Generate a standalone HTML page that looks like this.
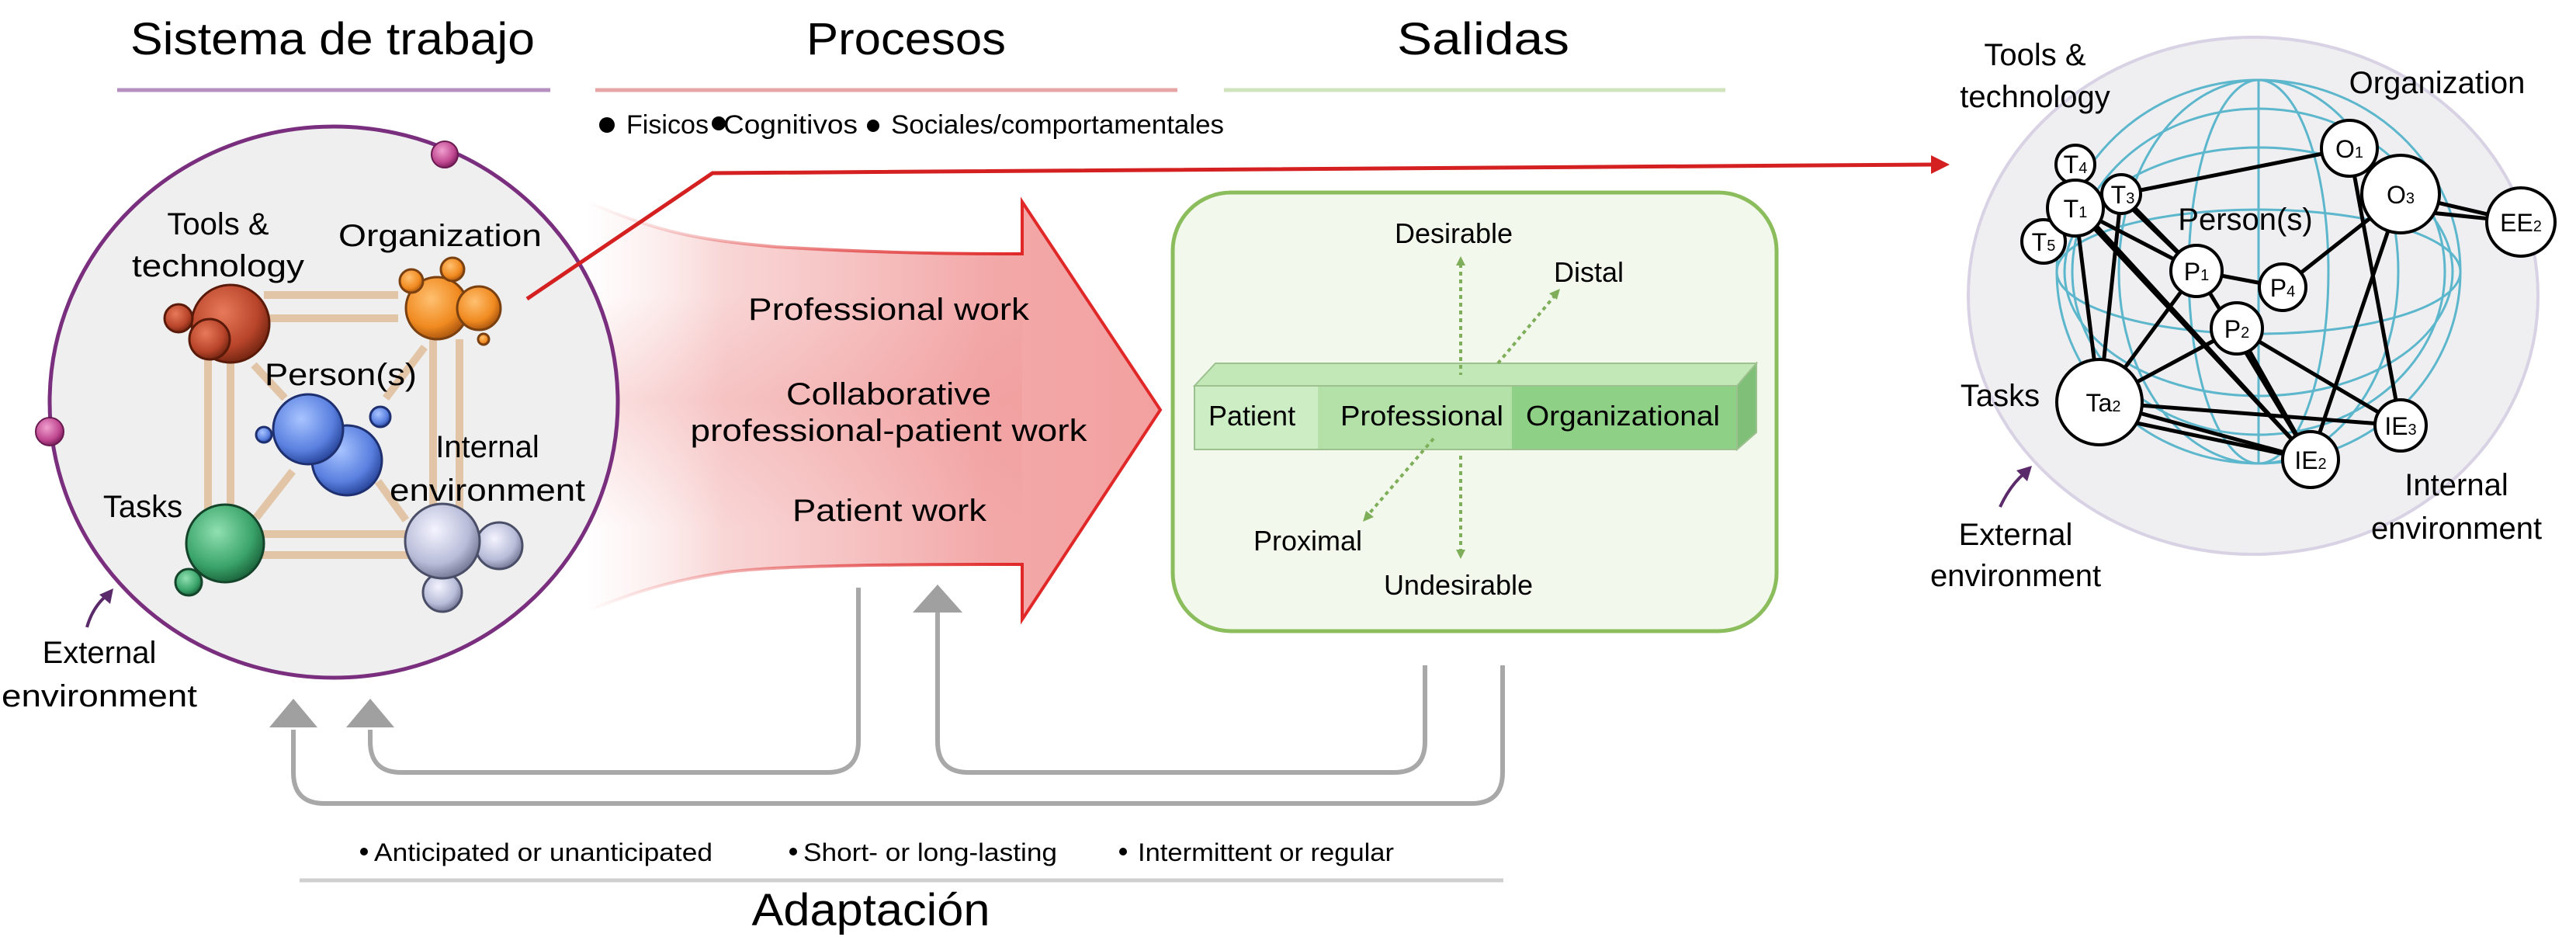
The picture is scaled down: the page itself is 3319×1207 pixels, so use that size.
<!DOCTYPE html>
<html><head><meta charset="utf-8"><style>
html,body{margin:0;padding:0;background:#fff;}
svg{display:block;font-family:"Liberation Sans",Arial,sans-serif;}
</style></head><body>
<svg width="3319" height="1207" viewBox="0 0 3319 1207" xmlns="http://www.w3.org/2000/svg">
<defs>
<linearGradient id="arrowH" x1="745" y1="0" x2="1495" y2="0" gradientUnits="userSpaceOnUse">
<stop offset="0" stop-color="#fbe3e3" stop-opacity="0"/>
<stop offset="0.25" stop-color="#f6c4c4" stop-opacity="0.7"/>
<stop offset="0.7" stop-color="#f3a9a9"/>
<stop offset="1" stop-color="#f3a0a0"/>
</linearGradient>
<linearGradient id="band" x1="0" y1="380" x2="0" y2="680" gradientUnits="userSpaceOnUse">
<stop offset="0" stop-color="#ee8e8e" stop-opacity="0"/>
<stop offset="0.45" stop-color="#ee8e8e" stop-opacity="0.45"/>
<stop offset="1" stop-color="#ee8e8e" stop-opacity="0"/>
</linearGradient>
<linearGradient id="edgeR" x1="757" y1="0" x2="1317" y2="0" gradientUnits="userSpaceOnUse">
<stop offset="0" stop-color="#e03a3a" stop-opacity="0"/>
<stop offset="0.6" stop-color="#e03a3a" stop-opacity="0.7"/>
<stop offset="1" stop-color="#e02828"/>
</linearGradient>
<radialGradient id="gRed" cx="0.4" cy="0.35" r="0.65"><stop offset="0" stop-color="#e87a5a"/><stop offset="0.7" stop-color="#b8442a"/><stop offset="1" stop-color="#7a2814"/></radialGradient>
<radialGradient id="gOr" cx="0.4" cy="0.35" r="0.65"><stop offset="0" stop-color="#ffc070"/><stop offset="0.7" stop-color="#f08a20"/><stop offset="1" stop-color="#b05a10"/></radialGradient>
<radialGradient id="gBl" cx="0.4" cy="0.35" r="0.65"><stop offset="0" stop-color="#a8c4ff"/><stop offset="0.7" stop-color="#5a80e0"/><stop offset="1" stop-color="#2c4aa0"/></radialGradient>
<radialGradient id="gGr" cx="0.4" cy="0.35" r="0.65"><stop offset="0" stop-color="#90e0b0"/><stop offset="0.7" stop-color="#3aa46a"/><stop offset="1" stop-color="#1e6a40"/></radialGradient>
<radialGradient id="gSi" cx="0.4" cy="0.35" r="0.65"><stop offset="0" stop-color="#f4f4ff"/><stop offset="0.7" stop-color="#b8bcd8"/><stop offset="1" stop-color="#7a7e9a"/></radialGradient>
<radialGradient id="gPk" cx="0.4" cy="0.35" r="0.65"><stop offset="0" stop-color="#f0a0d0"/><stop offset="0.7" stop-color="#c04890"/><stop offset="1" stop-color="#802060"/></radialGradient>
</defs>

<!-- Titles -->
<text x="168" y="70" font-size="58" textLength="521" lengthAdjust="spacingAndGlyphs">Sistema de trabajo</text>
<text x="1039" y="70" font-size="58" textLength="257" lengthAdjust="spacingAndGlyphs">Procesos</text>
<text x="1800" y="70" font-size="58" textLength="222" lengthAdjust="spacingAndGlyphs">Salidas</text>
<line x1="151" y1="116" x2="709" y2="116" stroke="#b68fc0" stroke-width="5"/>
<line x1="767" y1="116" x2="1517" y2="116" stroke="#e6a6a6" stroke-width="5"/>
<line x1="1577" y1="116" x2="2223" y2="116" stroke="#cfe3bd" stroke-width="5"/>

<!-- bullets -->
<circle cx="782" cy="161" r="10"/><circle cx="926" cy="159" r="9"/><circle cx="1125" cy="162" r="8"/>
<text x="807" y="172" font-size="34" textLength="106" lengthAdjust="spacingAndGlyphs">Fisicos</text>
<text x="932" y="172" font-size="34" textLength="173" lengthAdjust="spacingAndGlyphs">Cognitivos</text>
<text x="1148" y="172" font-size="34" textLength="429" lengthAdjust="spacingAndGlyphs">Sociales/comportamentales</text>

<!-- Big arrow -->
<path d="M757,260 C850,300 900,309 1000,318 C1150,327 1250,327 1317,327 L1317,260 L1495,528 L1317,798 L1317,727 C1200,727 1000,727 930,738 C850,750 800,770 757,787 Z" fill="url(#arrowH)"/>
<path d="M757,260 C850,300 900,309 1000,318 C1150,327 1250,327 1317,327 L1317,727 C1200,727 1000,727 930,738 C850,750 800,770 757,787 Z" fill="url(#band)" opacity="0.6"/>
<path d="M757,260 C850,300 900,309 1000,318 C1150,327 1250,327 1317,327 L1317,260 L1495,528 L1317,798 L1317,727 C1200,727 1000,727 930,738 C850,750 800,770 757,787" fill="none" stroke="url(#edgeR)" stroke-width="4"/>
<text x="1145" y="412" font-size="40" text-anchor="middle" textLength="362" lengthAdjust="spacingAndGlyphs">Professional work</text>
<text x="1145" y="521" font-size="40" text-anchor="middle" textLength="264" lengthAdjust="spacingAndGlyphs">Collaborative</text>
<text x="1145" y="568" font-size="40" text-anchor="middle" textLength="511" lengthAdjust="spacingAndGlyphs">professional-patient work</text>
<text x="1146" y="671" font-size="40" text-anchor="middle" textLength="250" lengthAdjust="spacingAndGlyphs">Patient work</text>

<!-- Left circle -->
<ellipse cx="430" cy="518" rx="366" ry="355" fill="#efefef" stroke="#7a2e7e" stroke-width="5"/>
<circle cx="573" cy="199" r="17" fill="url(#gPk)" stroke="#6a1a50" stroke-width="2"/>
<circle cx="64" cy="556" r="18" fill="url(#gPk)" stroke="#6a1a50" stroke-width="2"/>
<!-- cube lines -->
<g stroke="#e2c4a6" stroke-width="10" fill="none">
<line x1="340" y1="380" x2="513" y2="380"/><line x1="340" y1="410" x2="513" y2="410"/>
<line x1="268" y1="460" x2="268" y2="665"/><line x1="297" y1="460" x2="297" y2="665"/>
<line x1="558" y1="437" x2="558" y2="660"/><line x1="592" y1="437" x2="592" y2="660"/>
<line x1="330" y1="688" x2="530" y2="688"/><line x1="330" y1="715" x2="530" y2="715"/>
<line x1="327" y1="470" x2="367" y2="513"/><line x1="497" y1="513" x2="547" y2="447"/>
<line x1="377" y1="607" x2="330" y2="667"/><line x1="487" y1="620" x2="523" y2="670"/>
</g>
<g stroke-width="3">
<circle cx="297" cy="417" r="50" fill="url(#gRed)" stroke="#5a1a0a"/>
<circle cx="230" cy="410" r="18" fill="url(#gRed)" stroke="#5a1a0a"/>
<circle cx="270" cy="437" r="26" fill="url(#gRed)" stroke="#5a1a0a"/>
<circle cx="563" cy="397" r="40" fill="url(#gOr)" stroke="#7a4010"/>
<circle cx="617" cy="397" r="28" fill="url(#gOr)" stroke="#7a4010"/>
<circle cx="583" cy="347" r="15" fill="url(#gOr)" stroke="#7a4010"/>
<circle cx="530" cy="362" r="15" fill="url(#gOr)" stroke="#7a4010"/>
<circle cx="623" cy="437" r="7" fill="url(#gOr)" stroke="#7a4010"/>
<circle cx="490" cy="537" r="13" fill="url(#gBl)" stroke="#1e3070"/>
<circle cx="340" cy="560" r="10" fill="url(#gBl)" stroke="#1e3070"/>
<circle cx="447" cy="593" r="45" fill="url(#gBl)" stroke="#1e3070"/>
<circle cx="397" cy="553" r="45" fill="url(#gBl)" stroke="#1e3070"/>
<circle cx="243" cy="750" r="17" fill="url(#gGr)" stroke="#14442a"/>
<circle cx="290" cy="700" r="50" fill="url(#gGr)" stroke="#14442a"/>
<circle cx="643" cy="703" r="30" fill="url(#gSi)" stroke="#4a4e66"/>
<circle cx="570" cy="763" r="25" fill="url(#gSi)" stroke="#4a4e66"/>
<circle cx="570" cy="697" r="48" fill="url(#gSi)" stroke="#4a4e66"/>
</g>
<g font-size="40" text-anchor="middle">
<text x="281" y="302">Tools &amp;</text>
<text x="281" y="356" textLength="222" lengthAdjust="spacingAndGlyphs">technology</text>
<text x="567" y="317" textLength="262" lengthAdjust="spacingAndGlyphs">Organization</text>
<text x="439" y="496" textLength="196" lengthAdjust="spacingAndGlyphs">Person(s)</text>
<text x="628" y="589">Internal</text>
<text x="628" y="645" textLength="252" lengthAdjust="spacingAndGlyphs">environment</text>
<text x="184" y="666">Tasks</text>
<text x="128" y="854">External</text>
<text x="128" y="910" textLength="252" lengthAdjust="spacingAndGlyphs">environment</text>
</g>
<path d="M112,808 Q120,780 140,765" fill="none" stroke="#5a2a6a" stroke-width="4"/>
<polygon points="146,758 128,766 142,778" fill="#5a2a6a"/>

<!-- Red connector -->
<polyline points="679,385 918,223 2490,212" fill="none" stroke="#d42020" stroke-width="5"/>
<polygon points="2512,212 2488,200 2488,224" fill="#d42020"/>

<!-- Green box -->
<rect x="1511" y="248" width="778" height="565" rx="75" fill="#f2f9ec" stroke="#8cbd5c" stroke-width="5"/>
<polygon points="1539,497 1566,468 2263,468 2238,497" fill="#c3e8b8" stroke="#9cc08e" stroke-width="2"/>
<polygon points="2238,497 2263,468 2263,557 2238,579" fill="#7fbf78" stroke="#9cc08e" stroke-width="2"/>
<rect x="1539" y="497" width="159" height="82" fill="#cdeec4"/>
<rect x="1698" y="497" width="250" height="82" fill="#b3e1a8"/>
<rect x="1948" y="497" width="290" height="82" fill="#8fd087"/>
<rect x="1539" y="497" width="699" height="82" fill="none" stroke="#9cc08e" stroke-width="2"/>
<g font-size="36">
<text x="1557" y="548">Patient</text>
<text x="1727" y="548" textLength="210" lengthAdjust="spacingAndGlyphs">Professional</text>
<text x="1966" y="548" textLength="250" lengthAdjust="spacingAndGlyphs">Organizational</text>
<text x="1873" y="313" text-anchor="middle">Desirable</text>
<text x="2002" y="363">Distal</text>
<text x="1615" y="709">Proximal</text>
<text x="1879" y="766" text-anchor="middle">Undesirable</text>
</g>
<g stroke="#7fae5a" stroke-width="4" stroke-dasharray="5,5" fill="none">
<line x1="1882" y1="340" x2="1882" y2="483"/>
<line x1="1882" y1="587" x2="1882" y2="710"/>
<line x1="1930" y1="468" x2="2004" y2="380"/>
<line x1="1847" y1="565" x2="1762" y2="664"/>
</g>
<g fill="#7fae5a">
<polygon points="1882,330 1876,342 1888,342"/><polygon points="1882,720 1876,708 1888,708"/>
<polygon points="2010,372 1996,378 2006,386"/><polygon points="1756,672 1760,658 1770,666"/>
</g>

<!-- Feedback arrows -->
<g fill="none" stroke="#a8a8a8" stroke-width="6">
<path d="M1106,757 L1106,955 Q1106,995 1066,995 L517,995 Q477,995 477,955 L477,940"/>
<path d="M1208,785 L1208,955 Q1208,995 1248,995 L1796,995 Q1836,995 1836,955 L1836,857"/>
<path d="M1936,857 L1936,995 Q1936,1035 1896,1035 L418,1035 Q378,1035 378,995 L378,940"/>
</g>
<g fill="#a0a0a0">
<polygon points="378,900 347,937 409,937"/>
<polygon points="477,900 446,937 508,937"/>
<polygon points="1208,753 1176,789 1240,789"/>
</g>
<circle cx="469" cy="1097" r="5"/><circle cx="1022" cy="1097" r="5"/><circle cx="1447" cy="1097" r="5"/>
<g font-size="32">
<text x="482" y="1109" textLength="436" lengthAdjust="spacingAndGlyphs">Anticipated or unanticipated</text>
<text x="1035" y="1109" textLength="327" lengthAdjust="spacingAndGlyphs">Short- or long-lasting</text>
<text x="1466" y="1109" textLength="330" lengthAdjust="spacingAndGlyphs">Intermittent or regular</text>
</g>
<line x1="386" y1="1134" x2="1937" y2="1134" stroke="#cfcfcf" stroke-width="5"/>
<text x="1122" y="1192" font-size="58" text-anchor="middle" textLength="307" lengthAdjust="spacingAndGlyphs">Adaptación</text>

<!-- Right network -->
<ellipse cx="2903" cy="381" rx="367" ry="333" fill="#efeff1" stroke="#d8d2e4" stroke-width="4"/>
<g fill="none" stroke="#5cb6cc" stroke-width="3">
<ellipse cx="2910" cy="350" rx="260" ry="247"/>
<ellipse cx="2910" cy="350" rx="180" ry="247"/>
<ellipse cx="2910" cy="350" rx="90" ry="247"/>
<line x1="2910" y1="103" x2="2910" y2="597"/>
<ellipse cx="2910" cy="350" rx="260" ry="80"/>
<ellipse cx="2910" cy="350" rx="250" ry="160"/>
<ellipse cx="2910" cy="350" rx="240" ry="210"/>
</g>
<g stroke="#000" stroke-width="5">
<line x1="2733" y1="250" x2="3027" y2="191"/>
<line x1="2674" y1="268" x2="2705" y2="518"/>
<line x1="2733" y1="250" x2="2705" y2="518"/>
<line x1="2674" y1="268" x2="2977" y2="592"/>
<line x1="2700" y1="290" x2="2977" y2="592"/>
<line x1="2733" y1="250" x2="2830" y2="349"/>
<line x1="2740" y1="262" x2="2830" y2="349"/>
<line x1="2674" y1="268" x2="2830" y2="349"/>
<line x1="2830" y1="349" x2="2941" y2="370"/>
<line x1="2830" y1="349" x2="2705" y2="518"/>
<line x1="2882" y1="423" x2="2705" y2="518"/>
<line x1="2830" y1="349" x2="2977" y2="592"/>
<line x1="2882" y1="423" x2="2977" y2="592"/>
<line x1="2882" y1="423" x2="3093" y2="548"/>
<line x1="2941" y1="370" x2="3093" y2="250"/>
<line x1="3027" y1="191" x2="3093" y2="548"/>
<line x1="3093" y1="250" x2="2977" y2="592"/>
<line x1="3093" y1="250" x2="3248" y2="286"/>
<line x1="3093" y1="270" x2="3248" y2="286"/>
<line x1="2705" y1="518" x2="3093" y2="548"/>
<line x1="2705" y1="518" x2="2977" y2="592"/>
<line x1="2705" y1="535" x2="2977" y2="592"/>
</g>
<g fill="#fff" stroke="#000" stroke-width="4">
<circle cx="2674" cy="212" r="25"/>
<circle cx="2633" cy="311" r="28"/>
<circle cx="2674" cy="268" r="36"/>
<circle cx="2733" cy="250" r="25"/>
<circle cx="3027" cy="191" r="36"/>
<circle cx="3093" cy="250" r="50"/>
<circle cx="3248" cy="286" r="44"/>
<circle cx="2830" cy="349" r="33"/>
<circle cx="2941" cy="370" r="30"/>
<circle cx="2882" cy="423" r="33"/>
<circle cx="2705" cy="518" r="55"/>
<circle cx="3093" cy="548" r="33"/>
<circle cx="2977" cy="592" r="36"/>
</g>
<g font-size="32" text-anchor="middle">
<text x="2674" y="223">T<tspan font-size="20">4</tspan></text>
<text x="2633" y="323">T<tspan font-size="20">5</tspan></text>
<text x="2674" y="280">T<tspan font-size="20">1</tspan></text>
<text x="2735" y="262">T<tspan font-size="20">3</tspan></text>
<text x="3027" y="203">O<tspan font-size="20">1</tspan></text>
<text x="3093" y="262">O<tspan font-size="20">3</tspan></text>
<text x="3248" y="298">EE<tspan font-size="20">2</tspan></text>
<text x="2830" y="361">P<tspan font-size="20">1</tspan></text>
<text x="2941" y="382">P<tspan font-size="20">4</tspan></text>
<text x="2882" y="435">P<tspan font-size="20">2</tspan></text>
<text x="2710" y="530">Ta<tspan font-size="20">2</tspan></text>
<text x="3093" y="560">IE<tspan font-size="20">3</tspan></text>
<text x="2977" y="604">IE<tspan font-size="20">2</tspan></text>
</g>
<g font-size="40" text-anchor="middle">
<text x="2622" y="84">Tools &amp;</text>
<text x="2622" y="138">technology</text>
<text x="3140" y="120">Organization</text>
<text x="2893" y="296">Person(s)</text>
<text x="2577" y="523">Tasks</text>
<text x="3165" y="638">Internal</text>
<text x="3165" y="694">environment</text>
<text x="2597" y="702">External</text>
<text x="2597" y="755">environment</text>
</g>
<path d="M2577,653 Q2590,625 2608,610" fill="none" stroke="#5a2a6a" stroke-width="4"/>
<polygon points="2618,600 2598,606 2612,620" fill="#5a2a6a"/>
</svg>
</body></html>
